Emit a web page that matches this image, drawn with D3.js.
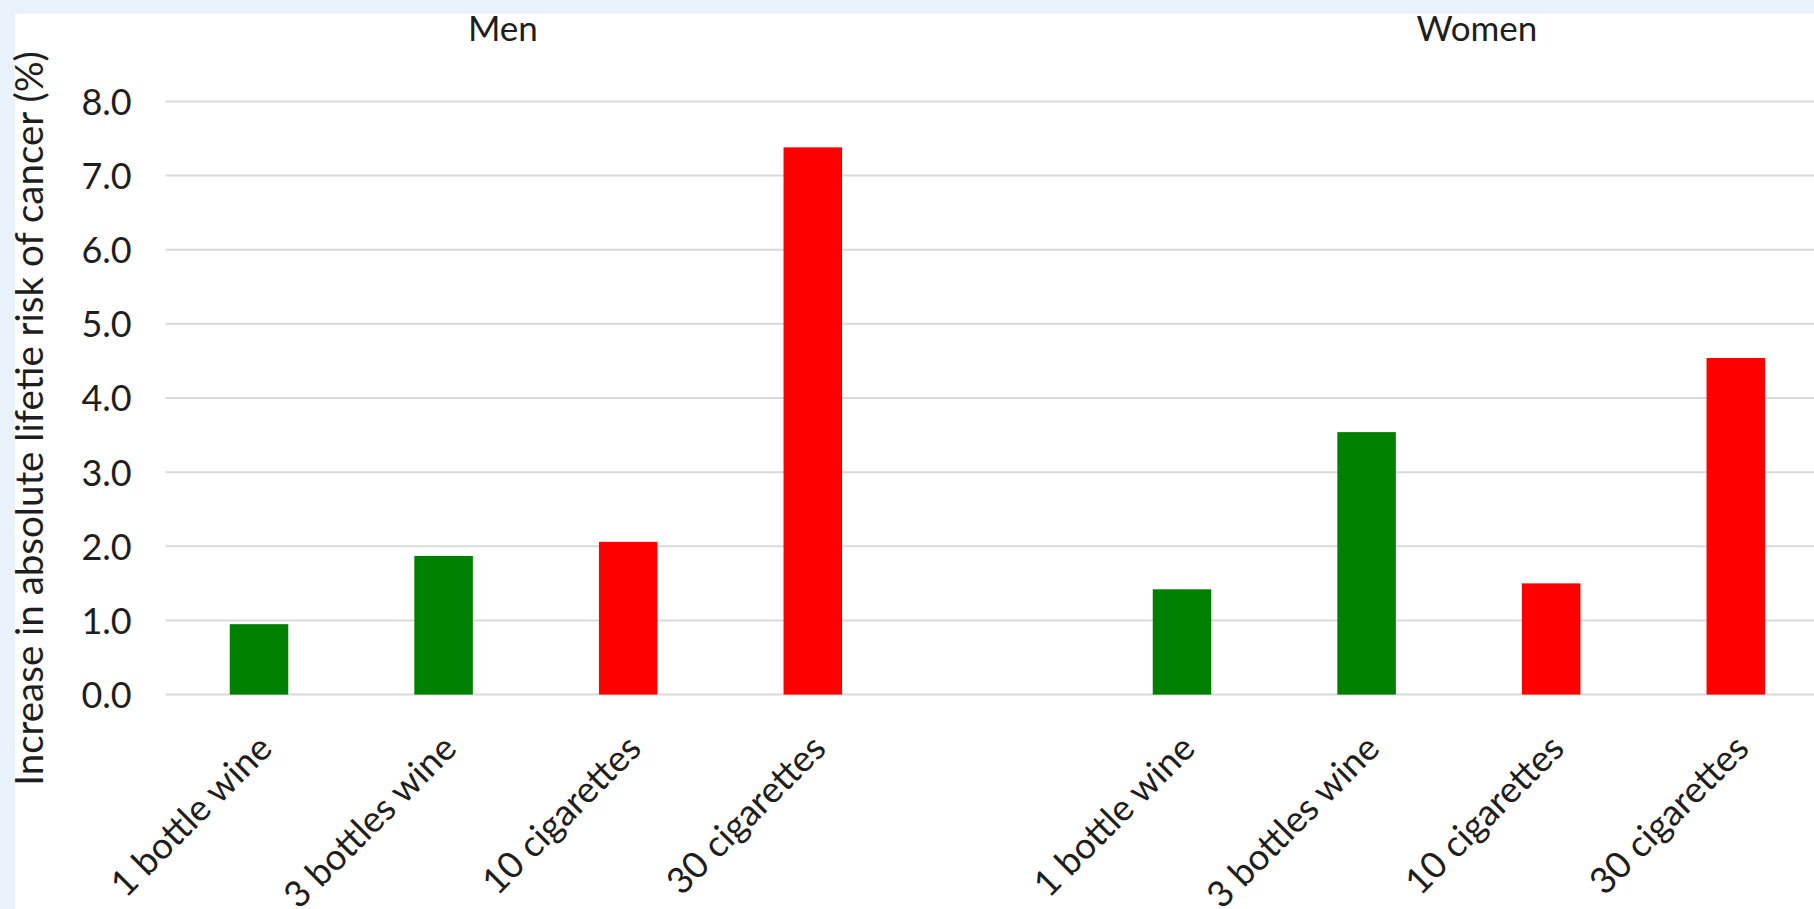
<!DOCTYPE html>
<html lang="en">
<head>
    <title>Absolute lifetime cancer risk</title>
    <meta charset="utf-8">
    <style>
        body {
            margin: 0;
            background: #e9f2fb;
        }
        svg {
            display: block;
            font-family: Lato, "Open Sans", sans-serif;
        }
        .grid line {
            stroke: #d9d9d9;
            stroke-width: 2px;
        }
        .tick-label,
        .cat-label,
        .group-title,
        .axis-label {
            fill: #1e1e1e;
        }
    </style>
    <script src="https://d3js.org/d3.v7.min.js"></script>
</head>

<body>
<div id="chart"></div>

<script>

    // data
    const groups = ["Men", "Women"];
    const items = ["1 bottle wine", "3 bottles wine", "10 cigarettes", "30 cigarettes"];
    const itemKinds = ["wine", "wine", "cigarettes", "cigarettes"];
    const menValues = [0.95, 1.87, 2.06, 7.38];
    const womenValues = [1.42, 3.54, 1.50, 4.54];
    const yTicks = [0, 1, 2, 3, 4, 5, 6, 7, 8];
    const yTitle = "Increase in absolute lifetie risk of cancer (%)";

    const W = 1814, H = 909;
    const frame = {left: 15, top: 14};
    const plot = {left: 166.7, step: 184.6, top: 101.4, bottom: 694.6};

    // one row per bar, plus an empty slot between the two groups
    const rows = [];
    groups.forEach((g, gi) => {
        const vals = gi === 0 ? menValues : womenValues;
        items.forEach((it, i) => rows.push({key: g + "|" + it, group: g, item: it, kind: itemKinds[i], value: vals[i]}));
    });
    const slots = rows.filter(d => d.group === groups[0]).map(d => d.key)
        .concat(["gap"])
        .concat(rows.filter(d => d.group === groups[1]).map(d => d.key));

    const svg = d3.select("#chart")
        .append("svg")
        .attr("width", W)
        .attr("height", H);

    svg.append("rect")
        .attr("x", frame.left)
        .attr("y", frame.top)
        .attr("width", W - frame.left)
        .attr("height", H - frame.top)
        .attr("fill", "#ffffff");

    const x = d3.scaleBand()
        .domain(slots)
        .range([plot.left, plot.left + plot.step * slots.length])
        .paddingInner(0.683)
        .paddingOuter(0.3415);

    const y = d3.scaleLinear()
        .domain([0, 8])
        .range([plot.bottom, plot.top]);

    const color = d3.scaleOrdinal()
        .domain(["wine", "cigarettes"])
        .range(["#008000", "#ff0000"]);

    // horizontal gridlines
    svg.append("g")
        .attr("class", "grid")
        .selectAll("line")
        .data(yTicks)
        .join("line")
        .attr("x1", plot.left - 1)
        .attr("x2", W)
        .attr("y1", d => y(d))
        .attr("y2", d => y(d));

    // y axis tick labels
    const yAxis = svg.append("g")
        .attr("transform", `translate(${plot.left - 35},0)`)
        .call(d3.axisLeft(y).tickValues(yTicks).tickFormat(d3.format(".1f")).tickSize(0).tickPadding(0))
        .attr("font-family", null)
        .attr("font-size", null);
    yAxis.select(".domain").remove();
    yAxis.selectAll("text")
        .attr("class", "tick-label")
        .attr("fill", null)
        .style("font-size", "36px")
        .attr("dy", "0.36em");

    svg.append("text")
        .attr("class", "axis-label")
        .attr("transform", `translate(43,${(55 + 782) / 2}) rotate(-90)`)
        .attr("text-anchor", "middle")
        .style("font-size", "38.5px")
        .text(yTitle);

    // bars
    svg.append("g")
        .selectAll("rect")
        .data(rows)
        .join("rect")
        .attr("x", d => x(d.key))
        .attr("width", x.bandwidth())
        .attr("y", d => y(d.value))
        .attr("height", d => y(0) - y(d.value))
        .attr("fill", d => color(d.kind));

    // category labels, rotated
    svg.append("g")
        .selectAll("text")
        .data(rows)
        .join("text")
        .attr("class", "cat-label")
        .attr("text-anchor", "end")
        .attr("dy", "0.35em")
        .attr("transform", d => `translate(${x(d.key) + x.bandwidth() / 2 + 6},${plot.bottom + 47}) rotate(-45)`)
        .style("font-size", "36.5px")
        .text(d => d.item);

    // group titles
    const titleShift = {Men: -33, Women: 18};
    svg.append("g")
        .selectAll("text")
        .data(groups)
        .join("text")
        .attr("class", "group-title")
        .attr("text-anchor", "middle")
        .attr("x", g => d3.mean(rows.filter(d => d.group === g), d => x(d.key) + x.bandwidth() / 2) + titleShift[g])
        .attr("y", 41)
        .style("font-size", "35px")
        .text(g => g);

</script>
</body>
</html>
